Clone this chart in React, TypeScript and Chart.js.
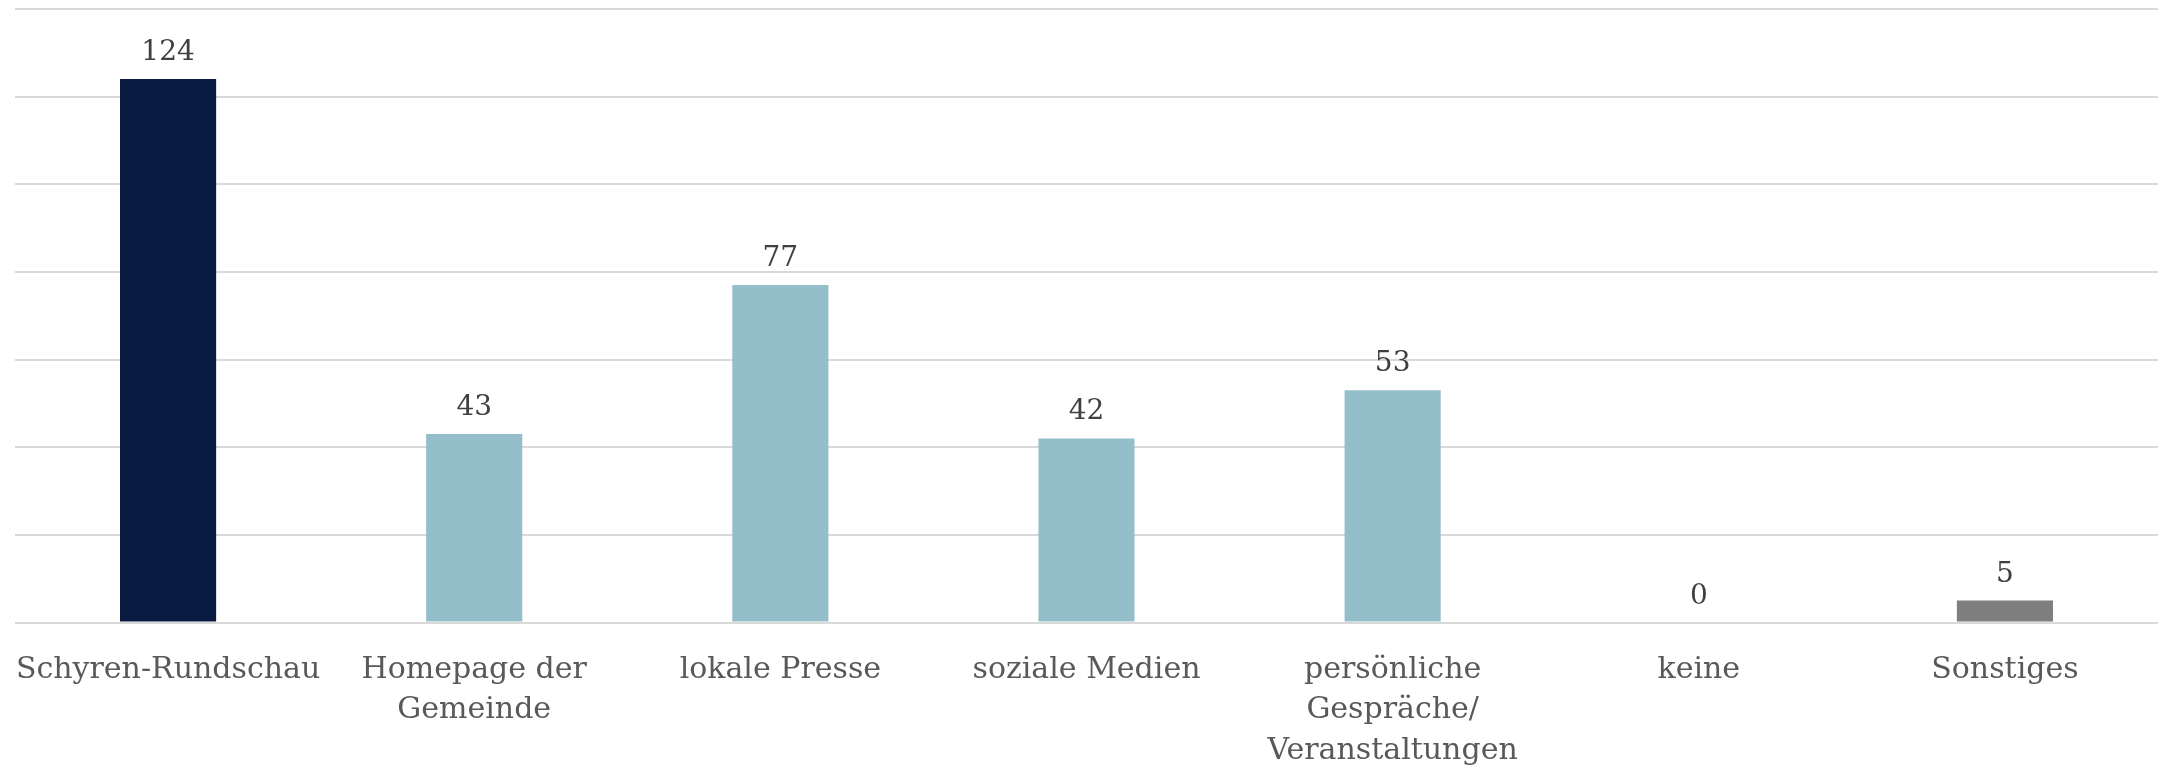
import React, { useEffect, useRef } from "react";
import { Chart, registerables } from "chart.js";

Chart.register(...registerables);

const categories: (string | string[])[] = [
  "Schyren-Rundschau",
  ["Homepage der", "Gemeinde"],
  "lokale Presse",
  "soziale Medien",
  ["persönliche", "Gespräche/", "Veranstaltungen"],
  "keine",
  "Sonstiges",
];
const values = [124, 43, 77, 42, 53, 0, 5];
const barColors = ["#091b41", "#94bfca", "#94bfca", "#94bfca", "#94bfca", "#94bfca", "#7f7f7f"];

const FONT = "'DejaVu Serif', serif";

const valueLabels = {
  id: "valueLabels",
  afterDatasetsDraw(chart: any) {
    const ctx = chart.ctx;
    const meta = chart.getDatasetMeta(0);
    ctx.save();
    ctx.font = `28px ${FONT}`;
    ctx.fillStyle = "#404040";
    ctx.textAlign = "center";
    ctx.textBaseline = "alphabetic";
    meta.data.forEach((bar: any, i: number) => {
      ctx.fillText(String(values[i]), bar.x, bar.y - 19);
    });
    ctx.restore();
  },
};

export default function App() {
  const ref = useRef<HTMLCanvasElement | null>(null);
  useEffect(() => {
    if (!ref.current) return;
    const chart = new Chart(ref.current, {
      type: "bar",
      data: {
        labels: categories,
        datasets: [
          {
            data: values,
            backgroundColor: barColors,
            barPercentage: 1,
            categoryPercentage: 0.314,
          },
        ],
      },
      options: {
        animation: false,
        responsive: false,
        maintainAspectRatio: false,
        layout: { padding: { left: 15, right: 0, top: 9, bottom: -22 } },
        plugins: { legend: { display: false }, tooltip: { enabled: false } },
        scales: {
          x: {
            grid: { display: false },
            border: { display: false },
            afterFit: (scale: any) => {
              scale.paddingLeft = 0;
              scale.paddingRight = 0;
            },
            ticks: {
              color: "#595959",
              font: { family: FONT, size: 30, lineHeight: 1.35 },
              padding: 19,
              maxRotation: 0,
              autoSkip: false,
            },
          },
          y: {
            min: 0,
            max: 140,
            ticks: { display: false, stepSize: 20 },
            grid: { color: "#d9d9d9", lineWidth: 2, drawTicks: false },
            border: { display: false },
          },
        },
      },
      plugins: [valueLabels],
    });
    return () => chart.destroy();
  }, []);
  return (
    <div style={{ position: "absolute", left: 0, top: 0, width: 2158, height: 768, background: "#fff" }}>
      <canvas ref={ref} width={2158} height={768} style={{ display: "block" }} />
    </div>
  );
}
